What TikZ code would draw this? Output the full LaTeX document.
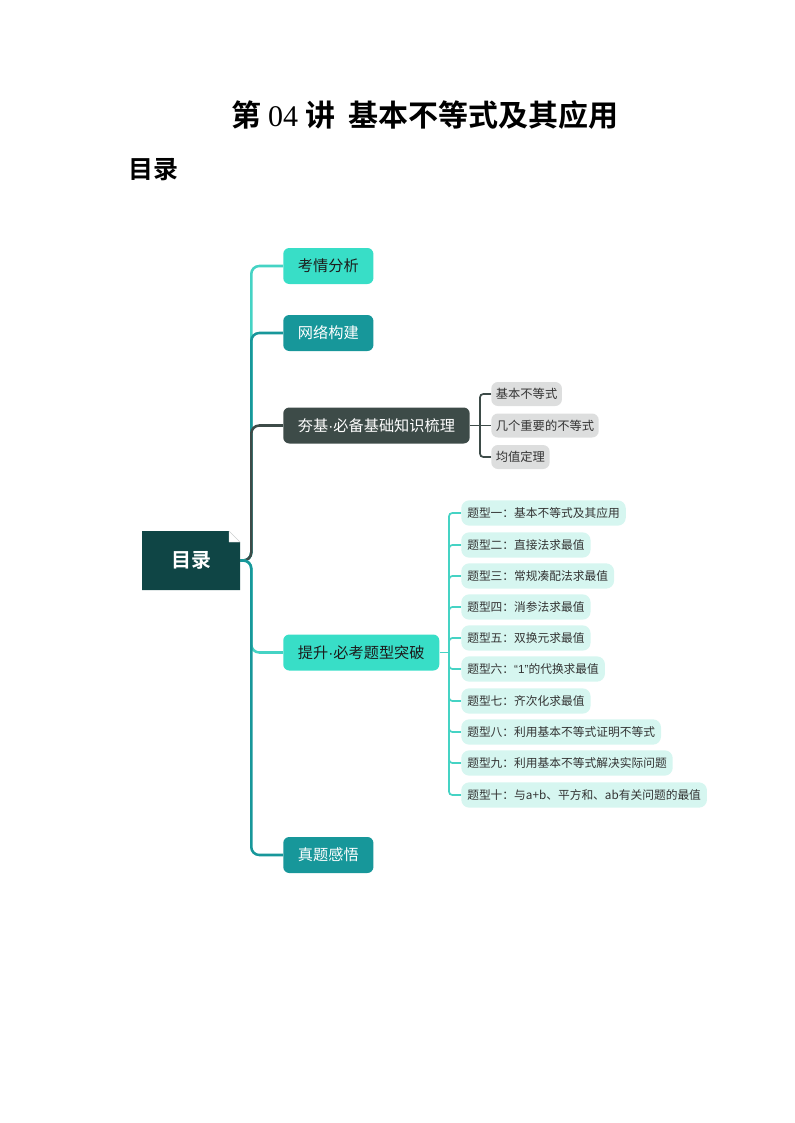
\documentclass[tikz,border=0pt]{standalone}
\usepackage{fontspec}
\setmainfont{Noto Sans CJK SC}[BoldFont={Noto Sans CJK SC Bold}]
\newfontfamily\numfont{Liberation Serif}
\newfontfamily\latinfont{Liberation Sans}
\usepackage{tikz}
\definecolor{rootfill}{HTML}{0F4545}
\definecolor{turq}{HTML}{38DEC7}
\definecolor{teal}{HTML}{17979A}
\definecolor{slate}{HTML}{3D4B48}
\definecolor{greybox}{HTML}{DDDEDE}
\definecolor{mint}{HTML}{D6F6F0}
\definecolor{turqline}{HTML}{45D3C4}
\definecolor{inkdark}{HTML}{1C1C1C}
\newcommand{\middot}{{\latinfont ·}}
\tikzstyle{Root}=[minimum width=73.5pt, minimum height=44.25pt, text=white, font=\fontsize{15pt}{17pt}\selectfont\bfseries]
\tikzstyle{Topic}=[anchor=west, minimum height=27pt, inner xsep=11pt, rounded corners=4.5pt, font=\fontsize{11.4pt}{13pt}\selectfont]
\tikzstyle{LightTopic}=[style=Topic, fill=turq, text=inkdark]
\tikzstyle{TealTopic}=[style=Topic, fill=teal, text=white]
\tikzstyle{SlateTopic}=[style=Topic, fill=slate, text=white]
\tikzstyle{GreyLeaf}=[anchor=west, minimum height=18pt, inner xsep=3.5pt, rounded corners=5pt, fill=greybox, text=inkdark!90, font=\fontsize{9.2pt}{11pt}\selectfont]
\tikzstyle{MintLeaf}=[anchor=west, minimum height=19pt, inner xsep=4.5pt, rounded corners=6pt, fill=mint, text=inkdark!90, font=\fontsize{8.8pt}{10.5pt}\selectfont]
\tikzstyle{branch}=[line width=1.9pt, rounded corners=6pt]
\tikzstyle{twig}=[line width=1.3pt, rounded corners=2.5pt]
\pgfdeclarelayer{nodelayer}
\pgfdeclarelayer{edgelayer}
\pgfsetlayers{edgelayer, nodelayer, main}

\begin{document}
\begin{tikzpicture}[x=0.75pt, y=-0.75pt]
	\useasboundingbox (0, 0) rectangle (794, 1123);
	\begin{pgfonlayer}{nodelayer}
		\node (title) at (425, 115) {\fontsize{22.5pt}{26pt}\selectfont\bfseries 第 {\numfont\mdseries 04} 讲\ \ 基本不等式及其应用};
		\node [anchor=west, inner sep=0pt] (contents) at (128, 170) {\fontsize{18.75pt}{22pt}\selectfont\bfseries 目录};

		\fill [rootfill] (142, 531) -- (229, 531) -- (240, 542) -- (240, 590) -- (142, 590) -- cycle;
		\filldraw [fill=white, draw=black!15, line width=0.3pt] (229, 531) -- (229, 542) -- (240, 542) -- cycle;
		\node [style=Root] (root) at (191, 560.5) {目录};

		\node [style=LightTopic] (analysis) at (283, 266) {考情分析};
		\node [style=TealTopic] (network) at (283, 333) {网络构建};
		\node [style=SlateTopic] (basics) at (283, 425.5) {夯基\middot 必备基础知识梳理};
		\node [style=LightTopic] (types) at (283, 652.5) {提升\middot 必考题型突破};
		\node [style=TealTopic] (exams) at (283, 855) {真题感悟};

		\node [style=GreyLeaf] (basic1) at (491, 394) {基本不等式};
		\node [style=GreyLeaf] (basic2) at (491, 425.5) {几个重要的不等式};
		\node [style=GreyLeaf] (basic3) at (491, 457) {均值定理};

		\node [style=MintLeaf] (type1) at (461, 513) {题型一：基本不等式及其应用};
		\node [style=MintLeaf] (type2) at (461, 545) {题型二：直接法求最值};
		\node [style=MintLeaf] (type3) at (461, 576) {题型三：常规凑配法求最值};
		\node [style=MintLeaf] (type4) at (461, 607) {题型四：消参法求最值};
		\node [style=MintLeaf] (type5) at (461, 638) {题型五：双换元求最值};
		\node [style=MintLeaf] (type6) at (461, 669) {题型六：{\latinfont “1”}的代换求最值};
		\node [style=MintLeaf] (type7) at (461, 701) {题型七：齐次化求最值};
		\node [style=MintLeaf] (type8) at (461, 732) {题型八：利用基本不等式证明不等式};
		\node [style=MintLeaf] (type9) at (461, 763) {题型九：利用基本不等式解决实际问题};
		\node [style=MintLeaf] (type10) at (461, 795) {题型十：与a+b、平方和、ab有关问题的最值};

		\coordinate (basicsbar) at (480, 425.5);
		\coordinate (typesbar) at (449, 652.5);
	\end{pgfonlayer}
	\begin{pgfonlayer}{edgelayer}
		\draw [style=branch, draw=turqline] (root.east) -- ++(11, 0) |- (analysis.west);
		\draw [style=branch, draw=teal] (root.east) -- ++(11, 0) |- (network.west);
		\draw [style=branch, draw=slate] (root.east) -- ++(11, 0) |- (basics.west);
		\draw [style=branch, draw=turqline] (root.east) -- ++(11, 0) |- (types.west);
		\draw [style=branch, draw=teal] (root.east) -- ++(11, 0) |- (exams.west);

		\draw [style=twig, draw=slate] (basics.east) -- (basicsbar);
		\draw [style=twig, draw=slate] (basicsbar) |- (basic1.west);
		\draw [style=twig, draw=slate] (basicsbar) -- (basic2.west);
		\draw [style=twig, draw=slate] (basicsbar) |- (basic3.west);

		\draw [style=twig, draw=turqline] (types.east) -- (typesbar);
		\draw [style=twig, draw=turqline] (typesbar) |- (type1.west);
		\draw [style=twig, draw=turqline] (typesbar) |- (type2.west);
		\draw [style=twig, draw=turqline] (typesbar) |- (type3.west);
		\draw [style=twig, draw=turqline] (typesbar) |- (type4.west);
		\draw [style=twig, draw=turqline] (typesbar) |- (type5.west);
		\draw [style=twig, draw=turqline] (typesbar) |- (type6.west);
		\draw [style=twig, draw=turqline] (typesbar) |- (type7.west);
		\draw [style=twig, draw=turqline] (typesbar) |- (type8.west);
		\draw [style=twig, draw=turqline] (typesbar) |- (type9.west);
		\draw [style=twig, draw=turqline] (typesbar) |- (type10.west);
	\end{pgfonlayer}
\end{tikzpicture}
\end{document}
